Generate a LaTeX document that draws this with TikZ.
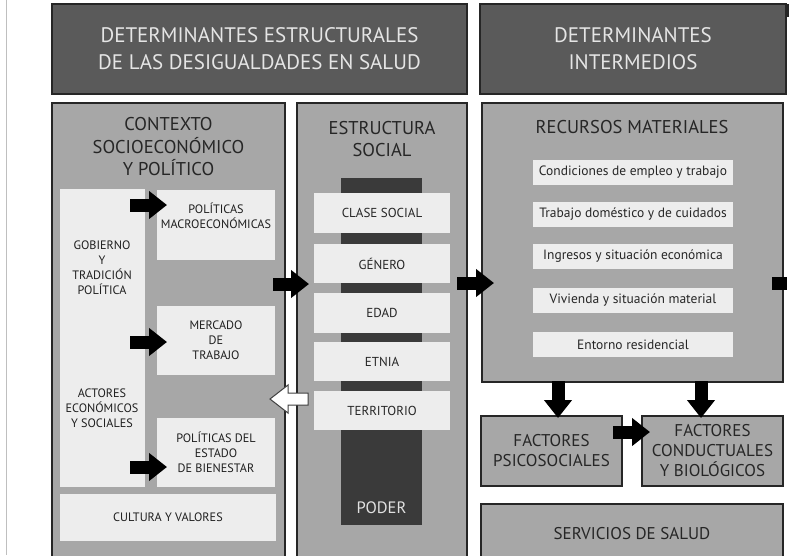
\documentclass[tikz,border=0pt]{standalone}
\usepackage{fontspec}
\setmainfont{PT Sans}
\usetikzlibrary{arrows.meta}
\definecolor{hdr}{HTML}{5A5A5A}
\definecolor{pnl}{HTML}{A7A7A7}
\definecolor{lite}{HTML}{EDEDED}
\definecolor{darkbar}{HTML}{3A3A3A}
\definecolor{txt}{HTML}{262626}
\begin{document}
\begin{tikzpicture}[x=1pt,y=-1pt,
 box/.style={anchor=north west, inner sep=0pt, outer sep=0pt, align=center},
 header/.style={box, fill=hdr, draw=black!85, line width=1.6pt, text=white!90!black, font=\fontsize{21}{27}\selectfont},
 panel/.style={box, fill=pnl, draw=black!85, line width=1.6pt, text=txt},
 item/.style={box, fill=lite, text=txt},
 smalltxt/.style={font=\fontsize{12.2}{15}\selectfont, text=black!88},
 recitem/.style={item, minimum width=200pt, minimum height=25pt, font=\fontsize{13.5}{15}\selectfont},
 estitem/.style={item, minimum width=136pt, font=\fontsize{13}{15}\selectfont},
 title/.style={align=center, text=txt, font=\fontsize{18.5}{22.5}\selectfont},
 blk/.style={line width=13pt, -{Triangle[length=18pt, width=27pt]}},
]
\useasboundingbox (0,0) rectangle (803,555);
\begin{scope}
\clip (0,0) rectangle (803,555);
\draw[black!25, line width=1pt] (6,0) -- (6,555);
\draw[black!85, line width=2pt] (788,4) -- (788,17);
% headers
\node[header, minimum width=415pt, minimum height=90pt] (h1) at (52,4) {DETERMINANTES ESTRUCTURALES\\DE LAS DESIGUALDADES EN SALUD};
\node[header, minimum width=306pt, minimum height=90pt] (h2) at (480,4) {DETERMINANTES\\INTERMEDIOS};
% panels
\node[panel, minimum width=233pt, minimum height=470pt] (ctx) at (52,103) {};
\node[panel, minimum width=170pt, minimum height=470pt] (est) at (297,103) {};
\node[panel, minimum width=301pt, minimum height=279pt] (rec) at (482,103) {};
\node[panel, minimum width=141pt, minimum height=70pt, font=\fontsize{17}{20}\selectfont] (psi) at (481,416) {FACTORES\\PSICOSOCIALES};
\node[panel, minimum width=141pt, minimum height=70pt, font=\fontsize{17}{20}\selectfont] (con) at (642,416) {FACTORES\\CONDUCTUALES\\Y BIOLÓGICOS};
\node[panel, minimum width=302pt, minimum height=60pt, font=\fontsize{17}{20}\selectfont] (ser) at (481,504) {SERVICIOS DE SALUD};
% titles
\node[title] (ctxt) at (168.5,147) {CONTEXTO\\SOCIOECONÓMICO\\Y POLÍTICO};
\node[title] (estt) at (382,139) {ESTRUCTURA\\SOCIAL};
\node[title] (rect) at (632,127) {RECURSOS MATERIALES};
% contexto items
\node[item, minimum width=85pt, minimum height=298pt] (gob) at (60,189) {};
\node[smalltxt, align=center] (gobt) at (102,268) {GOBIERNO\\Y\\TRADICIÓN\\POLÍTICA};
\node[smalltxt, align=center] (act) at (102,408) {ACTORES\\ECONÓMICOS\\Y SOCIALES};
\node[item, smalltxt, minimum width=118pt, minimum height=70pt] (pm) at (157,190) {POLÍTICAS\\MACROECONÓMICAS\\[4pt]};
\node[item, smalltxt, minimum width=118pt, minimum height=69pt] (mt) at (157,306) {MERCADO\\DE\\TRABAJO};
\node[item, smalltxt, minimum width=118pt, minimum height=69pt] (pe) at (157,418) {POLÍTICAS DEL\\ESTADO\\DE BIENESTAR};
\node[item, smalltxt, minimum width=216pt, minimum height=47pt] (cul) at (60,494) {CULTURA Y VALORES};
% estructura social
\node[box, fill=darkbar, minimum width=81pt, minimum height=347pt] (bar) at (341,178) {};
\node[text=white!88!black, font=\fontsize{16.5}{18}\selectfont] (pod) at (381.5,508) {PODER};
\node[estitem, minimum height=40pt] (cs) at (314,193) {CLASE SOCIAL};
\node[estitem, minimum height=39pt] (gen) at (314,244) {GÉNERO};
\node[estitem, minimum height=40pt] (eda) at (314,293) {EDAD};
\node[estitem, minimum height=39pt] (etn) at (314,342) {ETNIA};
\node[estitem, minimum height=39pt] (ter) at (314,391) {TERRITORIO};
% recursos materiales
\node[recitem] (r1) at (533,160) {Condiciones de empleo y trabajo};
\node[recitem] (r2) at (533,202) {Trabajo doméstico y de cuidados};
\node[recitem] (r3) at (533,244) {Ingresos y situación económica};
\node[recitem] (r4) at (533,288) {Vivienda y situación material};
\node[recitem] (r5) at (533,332) {Entorno residencial};
% arrow end points
\coordinate (a1s) at (130,205); \coordinate (a1e) at (167,205);
\coordinate (a2s) at (130,342); \coordinate (a2e) at (167,342);
\coordinate (a3s) at (130,467); \coordinate (a3e) at (167,467);
\coordinate (a4s) at (273,284); \coordinate (a4e) at (309,284);
\coordinate (a5s) at (457,283); \coordinate (a5e) at (494,283);
\coordinate (a6s) at (558,381); \coordinate (a6e) at (558,418);
\coordinate (a7s) at (701,381); \coordinate (a7e) at (701,418);
\coordinate (a8s) at (613,432); \coordinate (a8e) at (650,432);
\draw[blk] (a1s) -- (a1e);
\draw[blk] (a2s) -- (a2e);
\draw[blk] (a3s) -- (a3e);
\draw[blk] (a4s) -- (a4e);
\draw[blk] (a5s) -- (a5e);
\draw[blk] (a6s) -- (a6e);
\draw[blk] (a7s) -- (a7e);
\draw[blk] (a8s) -- (a8e);
% white arrow (estructura -> contexto)
\coordinate (wt) at (270,399);
\draw[fill=white, draw=black!75, line width=1pt] (wt) -- ++(18,-14) -- ++(0,8) -- ++(20,0) -- ++(0,12) -- ++(-20,0) -- ++(0,8) -- cycle;
% small black mark at right
\fill[black] (772,277) rectangle (787,290);
\end{scope}
\end{tikzpicture}
\end{document}
